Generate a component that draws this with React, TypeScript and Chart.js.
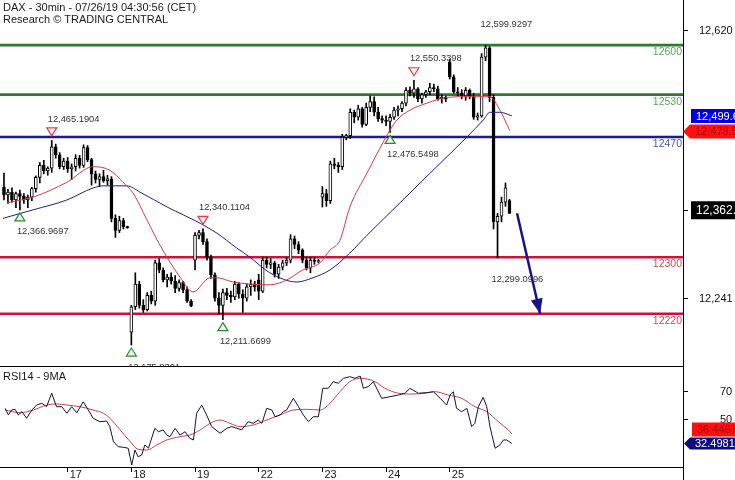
import React, { useEffect, useRef } from 'react';
import { Chart, registerables } from 'chart.js';

Chart.register(...registerables);

const FONT = '"Liberation Sans", Arial, Helvetica, sans-serif';
Chart.defaults.font.family = FONT;

const W = 735;
const MAIN_H = 366;
const RSI_H = 114;
const AXIS_W = 52;
const X_MAX = 171.6; // bar slots spanning the plot width

const titleLines = ['DAX - 30min - 07/26/19 04:30:56 (CET)', 'Research \u00A9 TRADING CENTRAL'];
const rsiTitle = 'RSI14 - 9MA';

// session starts (bar index) and their labels
const dayTicks = [17, 33, 49, 65, 81, 97, 113];
const dayLabels = ['17', '18', '19', '22', '23', '24', '25'];

// 30-min OHLC, bars 1..128
const opens = [
  12399, 12388, 12392, 12381, 12390, 12386, 12381, 12385, 12397, 12413, 12430, 12422, 12426, 12456, 12445, 12428,
  12436, 12425, 12428, 12440, 12430, 12455, 12438, 12418, 12410, 12414, 12408, 12411, 12355, 12338, 12352, 12343,
  12194, 12230, 12262, 12232, 12226, 12246, 12238, 12292, 12282, 12268, 12272, 12266, 12256, 12264, 12254, 12238,
  12296, 12331, 12335, 12322, 12300, 12275, 12242, 12232, 12250, 12246, 12244, 12262, 12248, 12242, 12258, 12262,
  12268, 12252, 12296, 12290, 12292, 12276, 12286, 12292, 12296, 12326, 12318, 12310, 12296, 12285, 12296, 12294,
  12385, 12390, 12380, 12432, 12430, 12428, 12470, 12472, 12505, 12498, 12510, 12488, 12512, 12520, 12505, 12496,
  12494, 12492, 12498, 12508, 12510, 12518, 12536, 12532, 12538, 12524, 12530, 12534, 12540, 12538, 12524, 12526,
  12576, 12555, 12534, 12532, 12528, 12536, 12528, 12498, 12500, 12583, 12596, 12526, 12350, 12358, 12378, 12380,
];
const highs = [
  12419, 12396, 12398, 12392, 12395, 12390, 12388, 12399, 12415, 12434, 12437, 12428, 12465.1904, 12460, 12448, 12440,
  12441, 12432, 12445, 12444, 12459, 12458, 12440, 12422, 12418, 12423, 12416, 12414, 12360, 12358, 12355, 12344,
  12232, 12278, 12266, 12240, 12250, 12252, 12296, 12298, 12285, 12276, 12278, 12274, 12268, 12266, 12258, 12240,
  12335, 12338, 12340.1104, 12326, 12303, 12278, 12250, 12255, 12256, 12252, 12266, 12264, 12254, 12262, 12268, 12266,
  12276, 12300, 12300, 12298, 12294, 12290, 12296, 12300, 12332, 12330, 12322, 12312, 12300, 12300, 12300, 12297,
  12400, 12396, 12436, 12440, 12434, 12474, 12474, 12510, 12508, 12515, 12512, 12518, 12528, 12527, 12512, 12500,
  12500, 12502, 12512, 12514, 12520, 12540, 12541, 12550.3398, 12540, 12532, 12536, 12546, 12545, 12542, 12530, 12528,
  12580, 12558, 12540, 12537, 12540, 12538, 12532, 12504, 12588, 12599.9297, 12598, 12530, 12362, 12385, 12405, 12382,
];
const lows = [
  12381, 12376, 12378, 12370, 12366.9697, 12376, 12370, 12380, 12392, 12405, 12418, 12416, 12420, 12440, 12425, 12424,
  12420, 12410, 12422, 12426, 12427, 12435, 12402, 12405, 12400, 12406, 12402, 12350, 12328, 12335, 12340, 12341,
  12175.8301, 12226, 12228, 12222, 12224, 12234, 12232, 12278, 12265, 12258, 12262, 12250, 12252, 12250, 12236, 12230,
  12282, 12326, 12318, 12296, 12270, 12238, 12220, 12211.6699, 12240, 12236, 12240, 12242, 12222, 12238, 12246, 12252,
  12240, 12250, 12285, 12284, 12272, 12270, 12282, 12288, 12292, 12312, 12305, 12292, 12282, 12278, 12290, 12292,
  12371, 12372, 12376, 12425, 12420, 12424, 12466, 12468, 12490, 12494, 12484, 12486, 12506, 12500, 12492, 12490,
  12486, 12476.5498, 12495, 12500, 12506, 12514, 12528, 12526, 12520, 12518, 12526, 12530, 12534, 12522, 12518, 12520,
  12552, 12532, 12528, 12524, 12522, 12524, 12495, 12494, 12498, 12578, 12520, 12340, 12299.0996, 12350, 12372, 12362,
];
const closes = [
  12388, 12392, 12381, 12390, 12386, 12381, 12385, 12397, 12413, 12430, 12422, 12426, 12456, 12445, 12428, 12436,
  12425, 12428, 12440, 12430, 12455, 12438, 12418, 12410, 12414, 12408, 12411, 12355, 12338, 12352, 12343, 12342,
  12230, 12262, 12232, 12226, 12246, 12238, 12292, 12282, 12268, 12272, 12266, 12256, 12264, 12254, 12238, 12231,
  12331, 12335, 12322, 12300, 12275, 12242, 12232, 12250, 12246, 12244, 12262, 12248, 12242, 12258, 12262, 12258,
  12252, 12296, 12290, 12292, 12276, 12286, 12292, 12296, 12326, 12318, 12310, 12296, 12285, 12296, 12294, 12295,
  12390, 12380, 12432, 12430, 12428, 12470, 12472, 12505, 12498, 12510, 12488, 12512, 12520, 12505, 12496, 12494,
  12492, 12498, 12508, 12510, 12518, 12536, 12532, 12538, 12524, 12530, 12534, 12540, 12538, 12524, 12526, 12524,
  12555, 12534, 12532, 12528, 12536, 12528, 12498, 12500, 12583, 12596, 12526, 12350, 12358, 12378, 12398, 12362.1,
];

const priceTicks = [12620, 12241];
const PRICE_MIN = 12146.2;
const PRICE_MAX = 12663.8;

const levels = [12600, 12530, 12470, 12300, 12220];
const levelColors = ['#2e7a30', '#2e7a30', '#1c1c8c', '#c8143c', '#c8143c'];
const levelTextColors = ['#5f9f5f', '#5f9f5f', '#5656a0', '#d04a5a', '#d04a5a'];

// moving averages [bar position, price]
const ma20: [number, number][] = [
  [1.8, 12377], [8.3, 12385], [16.8, 12406], [23.4, 12428], [27.6, 12423], [30.9, 12406], [33.4, 12391],
  [36.9, 12353], [40.2, 12317], [45.2, 12272], [48.5, 12251], [52.8, 12271], [54.5, 12271], [58.5, 12265],
  [62.8, 12262], [67.8, 12261], [72.1, 12268], [76.1, 12282], [80.4, 12292], [82.9, 12310], [85.4, 12324],
  [87.9, 12371], [92.2, 12419], [96.2, 12462], [98, 12480], [99.7, 12494], [103, 12508], [107.3, 12518],
  [111.3, 12525], [116.3, 12527], [121.4, 12527], [123.1, 12527], [125.6, 12508], [128.1, 12479],
];
const ma50: [number, number][] = [
  [0.75, 12355], [8.3, 12367], [16.8, 12381], [23.4, 12398], [25.9, 12401], [28.4, 12401], [31.9, 12401],
  [35.2, 12392], [42, 12371], [50.3, 12348], [54.5, 12334], [59.5, 12313], [62.8, 12300], [67.8, 12278],
  [74.6, 12265], [78.6, 12271], [82.9, 12282], [87.9, 12306], [92.2, 12331], [100.5, 12377], [108.8, 12423],
  [117.3, 12470], [121.4, 12494], [123.1, 12505], [125.6, 12505], [128.6, 12500],
];
const ma20Last = 12478.5;
const ma50Last = 12499.6;
const lastPrice = 12362.1;

// projection arrow [bar position], [price]
const arrowX = [129.9, 135.7];
const arrowY = [12362.1, 12220];

// swing labels (bar index)
const highMarks = [
  { bar: 13, marker: true },
  { bar: 51, marker: true },
  { bar: 104, marker: true },
  { bar: 122, marker: false },
];
const lowMarks = [
  { bar: 5, marker: true },
  { bar: 33, marker: true },
  { bar: 56, marker: true },
  { bar: 98, marker: true },
  { bar: 125, marker: false },
];

const rsiTicks = [70, 50];
const RSI_MIN = 15.45;
const RSI_MAX = 88.9;
const rsi14: [number, number][] = [
  [1.3, 58.1], [2.1, 53.3], [2.9, 56.9], [3.8, 57.4], [4.6, 53.3], [5.5, 55.7], [6.7, 50.9], [8.0, 56.9],
  [9.2, 60.5], [10.5, 61.8], [11.7, 59.3], [13.0, 69.1], [14.2, 59.3], [15.5, 59.3], [16.8, 54.5], [18.0, 59.3],
  [19.3, 54.9], [20.9, 62.9], [22.2, 56.9], [23.4, 50.9], [25.1, 48.4], [26.8, 48.9], [27.6, 44.8], [28.5, 33.9],
  [29.7, 30.2], [31.0, 29.8], [32.2, 29.1], [33.1, 16.9], [33.9, 27.8], [34.7, 22.9], [35.6, 24.2], [36.4, 31.5],
  [37.3, 29.1], [38.9, 43.6], [39.8, 41.1], [41.0, 42.4], [41.9, 38.7], [42.7, 37.5], [44.0, 43.6], [45.2, 38.7],
  [46.5, 41.1], [47.7, 36.3], [48.6, 35.1], [49.4, 54.5], [50.7, 60.5], [51.9, 53.3], [53.2, 44.8], [55.3, 40.0],
  [57.0, 43.6], [58.2, 44.8], [59.5, 43.6], [60.7, 42.4], [62.4, 48.4], [63.6, 47.2], [64.9, 49.6], [65.8, 47.2],
  [67.0, 58.1], [68.3, 56.9], [69.1, 52.0], [70.4, 53.3], [71.2, 55.7], [72.0, 56.9], [73.7, 65.4], [75.0, 59.3],
  [76.2, 53.3], [77.5, 48.4], [78.7, 52.0], [80.0, 52.0], [81.1, 72.7], [82.5, 72.7], [83.7, 77.5], [85.0, 76.3],
  [86.3, 80.0], [87.9, 81.1], [89.2, 80.0], [90.5, 81.6], [91.3, 72.7], [92.5, 73.9], [93.8, 77.5], [95.9, 65.4],
  [98.0, 66.6], [100.1, 67.8], [101.8, 69.1], [103.0, 72.7], [105.1, 69.1], [107.2, 69.5], [108.9, 70.2], [110.6, 65.4],
  [112.2, 60.5], [113.1, 67.8], [113.9, 70.2], [114.7, 58.1], [116.0, 55.7], [117.3, 58.1], [118.5, 44.8], [119.3, 47.2],
  [120.2, 59.3], [121.4, 66.1], [122.3, 59.3], [123.1, 44.8], [124.4, 29.1], [125.6, 31.5], [126.5, 35.1], [127.3, 35.1],
  [128.6, 32.5],
];
const rsiMa9: [number, number][] = [
  [1.3, 56.9], [5.0, 54.9], [8.4, 56.9], [11.7, 60.5], [14.2, 61.3], [16.8, 60.5], [20.1, 59.3], [23.4, 56.9],
  [26.0, 54.5], [27.6, 50.9], [30.2, 42.4], [32.7, 33.9], [34.7, 28.3], [36.9, 27.8], [39.4, 31.5], [41.9, 35.1],
  [45.2, 37.5], [47.7, 38.7], [50.3, 42.4], [52.8, 47.2], [55.3, 49.6], [57.8, 47.2], [60.3, 44.8], [63.6, 46.0],
  [67.0, 49.6], [70.4, 53.3], [73.7, 56.9], [77.1, 57.4], [80.4, 56.9], [82.9, 61.8], [85.4, 70.2], [87.9, 77.5],
  [90.5, 80.0], [94.2, 77.5], [96.7, 72.7], [100.1, 69.1], [103.4, 68.5], [106.8, 69.1], [109.3, 70.2], [112.6, 67.8],
  [116.0, 65.4], [119.3, 59.3], [122.3, 55.7], [125.2, 48.4], [127.7, 42.4], [128.6, 39.5],
];
const rsiLast = 32.4981;
const rsiMaLast = 36.4467;

const fmt = (v: number, d: number) =>
  v.toLocaleString('en-US', { minimumFractionDigits: d, maximumFractionDigits: d });

function drawTag(ctx: CanvasRenderingContext2D, axisX: number, x0: number, yc: number, h: number,
  bg: string, fg: string, text: string, pointer: boolean, size: number) {
  ctx.beginPath();
  if (pointer) {
    ctx.moveTo(axisX, yc);
    ctx.lineTo(x0, yc - h / 2);
  } else {
    ctx.moveTo(x0, yc - h / 2);
  }
  ctx.lineTo(W, yc - h / 2);
  ctx.lineTo(W, yc + h / 2);
  ctx.lineTo(x0, yc + h / 2);
  ctx.closePath();
  ctx.fillStyle = bg;
  ctx.fill();
  ctx.fillStyle = fg;
  ctx.font = `${size}px ${FONT}`;
  ctx.textAlign = 'left';
  ctx.textBaseline = 'middle';
  ctx.fillText(text, x0 + 5, yc + 0.5);
}

const mainOverlay = {
  id: 'mainOverlay',
  afterDatasetsDraw(chart: any) {
    const { ctx, chartArea: ca } = chart;
    const xs = chart.scales.x;
    const ys = chart.scales.y;
    ctx.save();
    // level labels
    ctx.font = `10.5px ${FONT}`;
    ctx.textAlign = 'right';
    ctx.textBaseline = 'middle';
    levels.forEach((lv, i) => {
      ctx.fillStyle = levelTextColors[i];
      ctx.fillText(String(lv), ca.right - 1, ys.getPixelForValue(lv) + 7);
    });
    // arrow head
    const meta = chart.getDatasetMeta(0);
    const p0 = meta.data[0];
    const p1 = meta.data[1];
    const a = Math.atan2(p1.y - p0.y, p1.x - p0.x);
    const L = 15;
    const hw = 6;
    const cs = Math.cos(a);
    const sn = Math.sin(a);
    ctx.beginPath();
    ctx.moveTo(p1.x, p1.y);
    ctx.lineTo(p1.x - L * cs + hw * sn, p1.y - L * sn - hw * cs);
    ctx.lineTo(p1.x - L * cs - hw * sn, p1.y - L * sn + hw * cs);
    ctx.closePath();
    ctx.fillStyle = '#14148a';
    ctx.fill();
    // swing marks
    ctx.font = `9.3px ${FONT}`;
    ctx.textAlign = 'left';
    ctx.lineWidth = 1.2;
    highMarks.forEach((m) => {
      const px = xs.getPixelForValue(m.bar);
      const py = ys.getPixelForValue(highs[m.bar - 1]);
      if (m.marker) {
        ctx.beginPath();
        ctx.moveTo(px - 5, py - 12.5);
        ctx.lineTo(px + 5, py - 12.5);
        ctx.lineTo(px, py - 4.5);
        ctx.closePath();
        ctx.fillStyle = '#fff4f4';
        ctx.fill();
        ctx.strokeStyle = '#e03c46';
        ctx.stroke();
      }
      ctx.fillStyle = '#333';
      ctx.fillText(fmt(highs[m.bar - 1], 4), px - (m.marker ? 4 : 5), py - (m.marker ? 21.5 : 20.5));
    });
    lowMarks.forEach((m) => {
      const px = xs.getPixelForValue(m.bar);
      const py = ys.getPixelForValue(lows[m.bar - 1]);
      if (m.marker) {
        ctx.beginPath();
        ctx.moveTo(px - 5, py + 11);
        ctx.lineTo(px + 5, py + 11);
        ctx.lineTo(px, py + 3);
        ctx.closePath();
        ctx.fillStyle = '#eef8ee';
        ctx.fill();
        ctx.strokeStyle = '#2a8a2a';
        ctx.stroke();
      }
      ctx.fillStyle = '#333';
      ctx.fillText(fmt(lows[m.bar - 1], 4), px - (m.marker ? 3 : 6), py + 22);
    });
    ctx.restore();
  },
  afterDraw(chart: any) {
    const { ctx, chartArea: ca } = chart;
    const ys = chart.scales.y;
    ctx.save();
    ctx.font = `11px ${FONT}`;
    ctx.fillStyle = '#1a1a1a';
    ctx.textAlign = 'left';
    ctx.textBaseline = 'middle';
    ctx.fillText(titleLines[0], 3, 7.5);
    ctx.fillText(titleLines[1], 3, 20);
    const ax = ca.right;
    drawTag(ctx, ax, 690, ys.getPixelForValue(ma20Last) + 0.5, 14, '#ff1010', '#b00000', fmt(ma20Last, 1), true, 11);
    drawTag(ctx, ax, 691, ys.getPixelForValue(ma50Last), 14, '#0000e0', '#ffffff', fmt(ma50Last, 1), false, 11);
    const yc = ys.getPixelForValue(lastPrice) - 3;
    drawTag(ctx, ax, 691, yc, 18, '#000000', '#ffffff', fmt(lastPrice, 1), false, 12);
    ctx.strokeStyle = '#000';
    ctx.lineWidth = 1;
    ctx.beginPath();
    ctx.moveTo(ax, Math.round(yc) + 0.5);
    ctx.lineTo(ax + 5, Math.round(yc) + 0.5);
    ctx.stroke();
    ctx.restore();
  },
};

const rsiOverlay = {
  id: 'rsiOverlay',
  afterDraw(chart: any) {
    const { ctx, chartArea: ca } = chart;
    const xs = chart.scales.x;
    const ys = chart.scales.y;
    ctx.save();
    ctx.strokeStyle = '#000';
    ctx.lineWidth = 1;
    ctx.beginPath();
    ctx.moveTo(0, 0.5);
    ctx.lineTo(ca.right, 0.5);
    ctx.moveTo(Math.round(ca.right) + 0.5, 0);
    ctx.lineTo(Math.round(ca.right) + 0.5, RSI_H);
    ctx.stroke();
    ctx.font = `11px ${FONT}`;
    ctx.fillStyle = '#1a1a1a';
    ctx.textAlign = 'left';
    ctx.textBaseline = 'middle';
    ctx.fillText(rsiTitle, 3, 10.5);
    dayTicks.forEach((t, i) => {
      ctx.fillText(dayLabels[i], xs.getPixelForValue(t) + 2, ca.bottom + 7.5);
    });
    const ynav = ys.getPixelForValue(rsiLast);
    drawTag(ctx, ca.right, 692, ynav - 14, 14, '#ff1010', '#b00000', fmt(rsiMaLast, 4), false, 11);
    drawTag(ctx, ca.right + 1, 690, ynav, 12, '#0c0c80', '#ffffff', fmt(rsiLast, 4), true, 11);
    ctx.restore();
  },
};

const zeroPad = (s: any) => {
  s.paddingTop = 0;
  s.paddingBottom = 0;
  s.paddingLeft = 0;
  s.paddingRight = 0;
};

const yAxisBase = (ticks: number[], min: number, max: number, padding: number, fmtFn: (v: number) => string) => ({
  type: 'linear' as const,
  position: 'right' as const,
  min,
  max,
  afterFit: (s: any) => { s.width = AXIS_W; zeroPad(s); },
  afterBuildTicks: (s: any) => { s.ticks = ticks.map((v) => ({ value: v })); },
  border: { display: true, color: '#000', width: 1 },
  grid: { drawOnChartArea: false, drawTicks: true, tickLength: 5, color: '#000' },
  ticks: {
    padding,
    color: '#111',
    font: { family: FONT, size: 11 },
    callback: (v: any) => fmtFn(Number(v)),
  },
});

export default function App() {
  const mainRef = useRef<HTMLCanvasElement>(null);
  const rsiRef = useRef<HTMLCanvasElement>(null);

  useEffect(() => {
    const bars = opens.map((_, i) => i + 1);
    const mainChart = new Chart(mainRef.current as HTMLCanvasElement, {
      type: 'bar',
      data: {
        datasets: [
          {
            type: 'line',
            label: 'projection',
            data: arrowX.map((x, i) => ({ x, y: arrowY[i] })),
            borderColor: '#14148a',
            borderWidth: 2.5,
            pointRadius: 0,
          },
          {
            type: 'line',
            label: 'MA fast',
            data: ma20.map(([x, y]) => ({ x, y })),
            borderColor: '#d0384c',
            borderWidth: 1,
            pointRadius: 0,
            cubicInterpolationMode: 'monotone',
          },
          {
            type: 'line',
            label: 'MA slow',
            data: ma50.map(([x, y]) => ({ x, y })),
            borderColor: '#1e1e8c',
            borderWidth: 1,
            pointRadius: 0,
            cubicInterpolationMode: 'monotone',
          },
          {
            type: 'bar',
            label: 'bodies',
            data: bars.map((x, i) => ({ x, y: [opens[i], closes[i]] })),
            backgroundColor: bars.map((_, i) => (closes[i] >= opens[i] ? '#ffffff' : '#000000')),
            borderColor: '#000',
            borderWidth: 1,
            borderSkipped: false,
            barThickness: 3,
            minBarLength: 1,
            grouped: false,
          },
          {
            type: 'bar',
            label: 'wicks',
            data: bars.map((x, i) => ({ x, y: [lows[i], highs[i]] })),
            backgroundColor: '#000',
            barThickness: 1,
            grouped: false,
          },
          ...levels.map((lv, i) => ({
            type: 'line',
            label: String(lv),
            data: [{ x: 0, y: lv }, { x: X_MAX, y: lv }],
            borderColor: levelColors[i],
            borderWidth: 2.6,
            pointRadius: 0,
          })),
        ] as any,
      },
      options: {
        responsive: false,
        animation: false,
        devicePixelRatio: 1,
        layout: { padding: 0 },
        plugins: { legend: { display: false }, tooltip: { enabled: false } },
        scales: {
          x: { type: 'linear', min: 0, max: X_MAX, display: false, offset: false, grid: { offset: false } },
          y: yAxisBase(priceTicks, PRICE_MIN, PRICE_MAX, 11, (v) => fmt(v, 0)),
        },
      } as any,
      plugins: [mainOverlay],
    });

    const rsiChart = new Chart(rsiRef.current as HTMLCanvasElement, {
      type: 'line',
      data: {
        datasets: [
          {
            label: 'RSI14',
            data: rsi14.map(([x, y]) => ({ x, y })),
            borderColor: '#12123a',
            borderWidth: 1,
            pointRadius: 0,
          },
          {
            label: '9MA',
            data: rsiMa9.map(([x, y]) => ({ x, y })),
            borderColor: '#c8404e',
            borderWidth: 1,
            pointRadius: 0,
            cubicInterpolationMode: 'monotone',
          },
        ],
      },
      options: {
        responsive: false,
        animation: false,
        devicePixelRatio: 1,
        layout: { padding: 0 },
        plugins: { legend: { display: false }, tooltip: { enabled: false } },
        scales: {
          x: {
            type: 'linear',
            min: 0,
            max: X_MAX,
            offset: false,
            afterFit: (s: any) => { s.height = 13; zeroPad(s); },
            afterBuildTicks: (s: any) => { s.ticks = dayTicks.map((v) => ({ value: v })); },
            border: { display: true, color: '#000', width: 1 },
            grid: { drawOnChartArea: false, drawTicks: true, tickLength: 5, color: '#000', offset: false },
            ticks: { display: false },
          },
          y: yAxisBase(rsiTicks, RSI_MIN, RSI_MAX, 32, (v) => String(v)),
        },
      } as any,
      plugins: [rsiOverlay],
    });

    return () => {
      mainChart.destroy();
      rsiChart.destroy();
    };
  }, []);

  return (
    <div style={{ position: 'fixed', left: 0, top: 0, width: W, height: 480, background: '#fff', overflow: 'hidden' }}>
      <canvas ref={mainRef} width={W} height={MAIN_H} style={{ position: 'absolute', left: 0, top: 0, display: 'block' }} />
      <canvas ref={rsiRef} width={W} height={RSI_H} style={{ position: 'absolute', left: 0, top: MAIN_H, display: 'block' }} />
    </div>
  );
}
